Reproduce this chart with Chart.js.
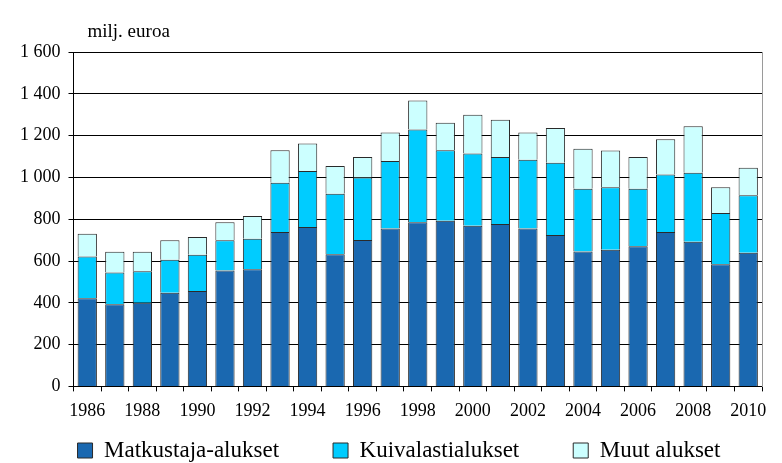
<!DOCTYPE html>
<html>
<head>
<meta charset="utf-8">
<script src="https://cdn.jsdelivr.net/npm/chart.js@4/dist/chart.umd.min.js"></script>
<style>
html,body{margin:0;padding:0;background:#fff;}
#wrap{width:782px;height:463px;}
</style>
</head>
<body>
<div id="wrap"><canvas id="c"></canvas></div>
<script>
const years = ['1986','1987','1988','1989','1990','1991','1992','1993','1994','1995','1996','1997','1998','1999','2000','2001','2002','2003','2004','2005','2006','2007','2008','2009','2010'];
const matkustaja = [422,393,400,448,456,555,561,739,763,632,700,755,785,793,769,777,755,724,646,654,670,739,692,585,640];
const kuivalasti = [200,152,151,158,174,144,146,236,268,290,299,323,444,337,345,321,329,346,300,299,276,275,330,245,275];
const muut = [108,99,93,93,85,86,108,155,131,132,99,137,139,131,186,178,131,166,191,176,152,169,223,123,131];
const yTicks = [0,200,400,600,800,1000,1200,1400,1600];
const unitLabel = 'milj. euroa';

const serif = "'Liberation Serif', 'DejaVu Serif', serif";

const unitPlugin = {
  id: 'unitLabel',
  afterDraw(chart) {
    const ctx = chart.ctx;
    ctx.save();
    ctx.font = "19px " + serif;
    ctx.fillStyle = '#000';
    ctx.textBaseline = 'alphabetic';
    ctx.fillText(unitLabel, chart.chartArea.left + 14, 37);
    ctx.restore();
  }
};

// wider horizontal spacing between legend items, keeping the compact vertical slot
const legendSpacing = {
  id: 'legendSpacing',
  beforeDraw(chart) {
    const lg = chart.legend;
    if (!lg) return;
    const itemY = lg.top + lg.options.labels.padding;
    lg.options.labels.padding = 54;
    lg.fit();
    lg.top = itemY - 54;
    lg.bottom = lg.top + lg.height;
    lg.left += 8; lg.right += 8;
  }
};

new Chart(document.getElementById('c'), {
  type: 'bar',
  data: {
    labels: years,
    datasets: [
      {label: 'Matkustaja-alukset', data: matkustaja, backgroundColor: '#1a68b0', borderColor: '#2a2a2a', borderWidth: 1},
      {label: 'Kuivalastialukset', data: kuivalasti, backgroundColor: '#00ccff', borderColor: '#2a2a2a', borderWidth: 1},
      {label: 'Muut alukset', data: muut, backgroundColor: '#ccffff', borderColor: '#2a2a2a', borderWidth: 1}
    ]
  },
  options: {
    responsive: true,
    maintainAspectRatio: false,
    animation: false,
    layout: {padding: {top: 52, right: 12, left: 12, bottom: -9}},
    datasets: {bar: {barPercentage: 0.7, categoryPercentage: 1.0}},
    scales: {
      x: {
        stacked: true,
        grid: {display: true, drawOnChartArea: false, offset: true, color: '#000', tickLength: 5},
        border: {color: '#000'},
        ticks: {
          autoSkip: false, maxRotation: 0, color: '#000', padding: 9,
          font: {family: serif, size: 18},
          callback: function(v, i) { return i % 2 === 0 ? years[i] : ''; }
        }
      },
      y: {
        stacked: true,
        min: 0, max: 1600,
        afterBuildTicks: (axis) => { axis.ticks = yTicks.map(v => ({value: v})); },
        grid: {color: '#000', lineWidth: 1, tickLength: 5},
        border: {color: '#000'},
        ticks: {
          color: '#000', padding: 8,
          font: {family: serif, size: 18},
          callback: (v) => String(v).replace(/\B(?=(\d{3})+(?!\d))/g, ' ')
        }
      },
      yr: {
        position: 'right',
        min: 0, max: 1600,
        grid: {display: false},
        ticks: {display: false},
        border: {color: '#9a9a9a'}
      }
    },
    plugins: {
      legend: {
        position: 'bottom',
        labels: {
          color: '#000', boxWidth: 15, boxHeight: 15, padding: 8,
          font: {family: serif, size: 23}
        }
      },
      tooltip: {enabled: false}
    }
  },
  plugins: [unitPlugin, legendSpacing]
});
</script>
</body>
</html>
